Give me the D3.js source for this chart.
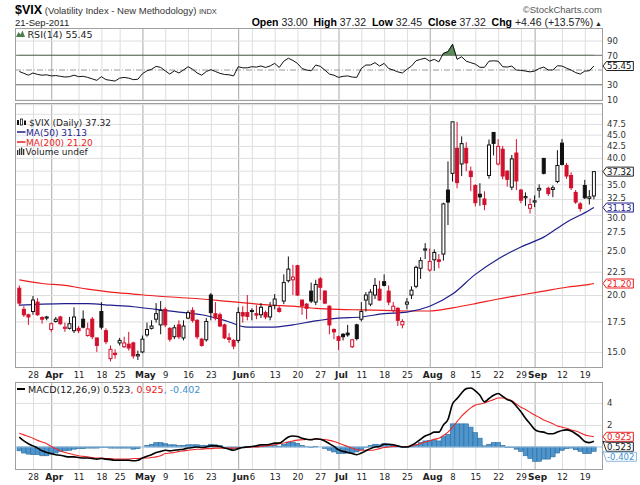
<!doctype html>
<html>
<head>
<meta charset="utf-8">
<title>$VIX daily</title>
<script src="https://cdn.jsdelivr.net/npm/d3@7"></script>
<style>
  body { margin: 0; background: #fff; }
  text { font-family: "DejaVu Sans", Verdana, sans-serif; white-space: pre; }
  .hdr { font-family: "Liberation Sans", Arial, sans-serif; }
</style>
</head>
<body>
<svg id="chart" width="640" height="485"></svg>
<script>
// trading days Mar 23 - Sep 21 2011 (weekends and market holidays left out)
var holidays = ["2011-04-22", "2011-05-30", "2011-07-04", "2011-09-05"];
var fmt = d3.utcFormat("%Y-%m-%d");
var days = d3.utcDay.range(new Date(Date.UTC(2011, 2, 23)), new Date(Date.UTC(2011, 8, 22)))
  .filter(d => d.getUTCDay() % 6 !== 0 && holidays.indexOf(fmt(d)) < 0)
  .map(fmt);

var tickDays = ["2011-03-28","2011-04-01","2011-04-11","2011-04-18","2011-04-25","2011-05-02",
  "2011-05-09","2011-05-16","2011-05-23","2011-06-01","2011-06-06","2011-06-13","2011-06-20",
  "2011-06-27","2011-07-01","2011-07-11","2011-07-18","2011-07-25","2011-08-01","2011-08-08",
  "2011-08-15","2011-08-22","2011-08-29","2011-09-01","2011-09-12","2011-09-19"];
var tickLabels = ["28","Apr","11","18","25","May","9","16","23","Jun","6","13","20","27",
  "Jul","11","18","25","Aug","8","15","22","29","Sep","12","19"];

var open = [
  20.7, 18.6, 18.1, 18.4, 19.3, 17.85, 17.8, 16.8, 17.5, 17.9,
  16.9, 16.9, 16.7, 16.9, 17.7, 16.3, 17.7, 16.1, 18.4, 16.7,
  14.5, 14.9, 15.7, 15.4, 15.6, 15.7, 14.7, 15.0, 16.35, 16.9,
  17.7, 17.2, 18.6, 16.9, 16.2, 17.2, 16.1, 17.8, 18.5, 17.6,
  16.0, 15.95, 20.0, 18.2, 18.1, 17.2, 16.1, 15.9, 15.9, 18.3,
  18.3, 18.4, 18.2, 18.1, 18.3, 17.9, 19.0, 18.7, 19.4, 21.5,
  21.6, 23.2, 19.5, 19.1, 20.4, 19.3, 21.7, 20.4, 18.9, 16.8,
  16.2, 16.4, 16.5, 15.4, 17.2, 17.7, 19.5, 19.1, 20.0, 20.6,
  21.4, 20.4, 18.5, 18.7, 17.2, 19.1, 20.0, 20.9, 22.9, 25.1,
  22.7, 23.9, 23.9, 24.6, 34.0, 37.0, 42.0, 38.8, 42.0, 37.4,
  34.8, 33.3, 32.5, 36.6, 45.5, 38.8, 41.8, 37.4, 34.5, 41.0,
  34.0, 32.7, 31.0, 32.0, 34.0, 39.9, 34.3, 34.1, 35.5, 43.1,
  38.5, 36.6, 33.6, 31.7, 34.8, 32.6, 33.0];
var high = [
  21.0, 18.9, 18.2, 19.9, 19.7, 17.95, 18.0, 17.4, 17.9, 18.0,
  17.4, 17.9, 18.8, 17.1, 18.5, 17.4, 17.9, 16.1, 19.3, 16.9,
  15.5, 15.2, 16.1, 16.2, 16.6, 15.8, 15.1, 16.3, 17.4, 17.6,
  19.2, 19.4, 18.8, 17.0, 17.2, 17.6, 17.6, 18.5, 18.8, 17.7,
  16.1, 17.8, 20.2, 19.3, 18.3, 17.3, 16.5, 16.0, 18.8, 18.9,
  20.0, 18.7, 19.0, 19.2, 18.5, 19.3, 20.1, 18.9, 22.2, 24.3,
  23.3, 23.3, 19.5, 19.2, 21.3, 21.6, 21.9, 20.5, 19.0, 16.9,
  16.3, 16.5, 17.2, 16.0, 17.3, 19.3, 20.3, 20.6, 21.8, 21.5,
  22.2, 21.0, 19.3, 18.8, 17.7, 19.7, 20.9, 23.2, 24.2, 26.0,
  25.3, 25.2, 24.6, 31.9, 39.3, 48.0, 48.0, 44.6, 43.3, 38.3,
  35.0, 35.2, 33.8, 43.9, 45.6, 44.0, 42.5, 37.6, 40.6, 44.0,
  34.2, 33.6, 32.6, 33.1, 35.0, 40.0, 34.6, 34.8, 41.6, 44.0,
  39.0, 37.2, 34.0, 32.0, 35.8, 34.0, 37.32];
var low = [
  18.9, 17.9, 17.2, 18.1, 18.0, 17.3, 17.6, 16.6, 17.4, 17.2,
  16.6, 16.8, 16.5, 16.5, 16.9, 16.2, 16.0, 15.0, 16.8, 15.6,
  14.3, 14.5, 15.5, 15.3, 15.1, 14.5, 14.4, 14.9, 16.2, 16.8,
  17.4, 16.4, 17.0, 15.8, 16.0, 16.0, 15.9, 17.7, 17.4, 16.0,
  15.4, 15.8, 17.6, 17.6, 17.0, 16.0, 15.7, 15.2, 15.7, 17.4,
  17.6, 17.6, 17.7, 17.8, 17.7, 17.6, 18.6, 18.3, 19.1, 21.3,
  20.0, 19.9, 18.1, 17.7, 19.2, 19.0, 19.5, 19.1, 16.4, 16.0,
  15.15, 15.9, 16.2, 15.3, 15.9, 17.5, 18.4, 18.9, 19.6, 19.4,
  20.9, 19.0, 18.3, 17.1, 16.9, 18.6, 19.6, 20.7, 21.7, 24.0,
  22.5, 22.6, 22.9, 23.8, 28.5, 35.5, 34.3, 36.5, 37.4, 33.8,
  31.3, 31.4, 30.7, 36.0, 40.5, 38.5, 35.9, 34.6, 34.0, 34.0,
  31.8, 31.4, 30.2, 31.2, 32.7, 36.8, 33.0, 32.8, 35.2, 38.5,
  36.0, 34.0, 31.7, 30.5, 32.5, 31.6, 32.45];
var close = [
  19.2, 18.1, 17.9, 19.5, 18.1, 17.7, 17.9, 17.3, 17.7, 17.3,
  17.0, 17.3, 17.9, 16.7, 17.0, 16.85, 16.2, 15.5, 17.0, 15.8,
  15.2, 14.8, 15.9, 15.7, 15.3, 14.7, 14.8, 16.0, 16.8, 17.1,
  18.2, 18.5, 17.2, 16.0, 16.95, 16.2, 17.1, 18.3, 17.6, 16.2,
  15.5, 17.5, 18.3, 17.8, 17.1, 16.1, 15.98, 15.45, 18.3, 18.0,
  17.95, 18.5, 18.07, 18.8, 17.9, 18.86, 19.6, 18.4, 21.3, 22.8,
  21.9, 20.0, 18.95, 18.7, 19.4, 21.1, 20.8, 19.2, 17.2, 16.6,
  15.9, 16.2, 16.35, 15.95, 16.05, 18.4, 20.0, 20.3, 21.0, 19.5,
  21.0, 19.3, 18.9, 17.6, 17.5, 19.3, 20.5, 23.0, 23.8, 25.25,
  23.7, 24.8, 23.7, 31.7, 32.0, 48.0, 35.3, 43.0, 39.0, 36.4,
  31.9, 32.85, 31.6, 42.7, 43.05, 42.4, 36.5, 35.9, 39.8, 35.6,
  32.3, 32.9, 31.6, 32.2, 34.3, 37.0, 33.4, 34.4, 38.5, 38.7,
  36.5, 34.4, 32.0, 30.98, 32.7, 32.86, 37.32];

// moving averages every fifth session
var maIdx = [0, 5, 10, 15, 20, 25, 30, 35, 40, 45, 50, 55, 60, 65, 70, 75, 80, 85, 90, 95,
  100, 105, 110, 115, 120, 125, 126];
var ma50 = [19.0, 19.1, 19.15, 19.15, 19.0, 18.85, 18.6, 18.35, 18.1, 17.6, 17.0, 17.0, 17.2,
  17.55, 17.8, 17.9, 18.2, 18.35, 18.9, 20.1, 22.2, 24.0, 25.5, 26.8, 28.9, 30.7, 31.13];
var ma200 = [21.6, 21.2, 21.0, 20.6, 20.3, 20.1, 19.9, 19.75, 19.6, 19.4, 19.2, 19.0, 18.9,
  18.7, 18.6, 18.55, 18.5, 18.45, 18.45, 18.75, 19.15, 19.6, 20.0, 20.4, 20.8, 21.1, 21.2];

var rsi = [
  48, 45.5, 43, 46, 44, 43, 43.5, 42, 42.5, 41.5,
  40.5, 41, 43, 41, 41.5, 40, 38, 36, 41, 37,
  36, 35, 39, 40, 39, 37, 37.5, 45, 49, 51,
  55, 53.5, 49, 44.5, 49, 46, 50, 54.5, 51, 46,
  43, 48, 50.5, 48, 45.5, 44, 43.5, 42, 54.5, 53,
  53, 54.5, 54, 55.5, 53.5, 55.5, 59, 53.5, 62, 66,
  63, 59, 52, 50, 49, 56.8, 55, 50, 44.5, 43,
  40, 41.5, 42, 40.5, 40, 52, 56.8, 56.8, 60, 55.4,
  59, 52, 50, 47.5, 46, 51, 55.4, 62.6, 64.5, 66,
  62, 64.5, 61, 72.7, 75, 85, 64.5, 68, 62, 60,
  58, 53.7, 53.7, 62, 62.5, 62, 54.5, 54, 55.4, 50,
  49.5, 48.6, 47.5, 48.6, 52, 54, 50, 50, 55.8, 55.4,
  52.5, 50, 46.5, 44.5, 48.6, 49, 55.45];

var macd = [
  0.9, 0.55, 0.3, 0.1, -0.1, -0.35, -0.5, -0.6, -0.7, -0.75,
  -0.85, -0.9, -0.9, -0.95, -1.0, -1.0, -1.05, -1.1, -1.05, -1.1,
  -1.15, -1.2, -1.2, -1.2, -1.2, -1.25, -1.2, -1.0, -0.85, -0.7,
  -0.5, -0.4, -0.3, -0.35, -0.3, -0.25, -0.2, -0.1, -0.05, 0.0,
  -0.05, 0.0, 0.1, 0.1, 0.05, -0.1, -0.2, -0.3, -0.15, -0.05,
  0.0, 0.05, 0.1, 0.2, 0.2, 0.25, 0.35, 0.35, 0.6, 0.9,
  1.0, 0.95, 0.8, 0.7, 0.65, 0.75, 0.7, 0.55, 0.3, 0.05,
  -0.25, -0.4, -0.5, -0.6, -0.7, -0.55, -0.35, -0.15, 0.0, 0.05,
  0.25, 0.25, 0.2, 0.1, 0.0, 0.0, 0.15, 0.4, 0.7, 1.0,
  1.15, 1.35, 1.35, 2.0, 2.5, 3.9, 4.4, 4.9, 5.3, 5.35,
  5.1, 4.7, 4.1, 4.4, 4.7, 4.85, 4.6, 4.3, 4.15, 3.7,
  3.2, 2.6, 2.1, 1.6, 1.4, 1.35, 1.2, 1.2, 1.35, 1.5,
  1.55, 1.45, 1.2, 0.9, 0.5, 0.4, 0.523];
var signal = [
  1.25, 1.1, 0.95, 0.8, 0.6, 0.45, 0.3, 0.05, -0.15, -0.35,
  -0.5, -0.6, -0.7, -0.8, -0.85, -0.9, -0.95, -1.0, -1.0, -1.05,
  -1.05, -1.1, -1.1, -1.1, -1.1, -1.05, -1.05, -1.0, -1.0, -0.95,
  -0.9, -0.8, -0.6, -0.55, -0.5, -0.4, -0.35, -0.3, -0.25, -0.2,
  -0.2, -0.15, -0.15, -0.1, -0.1, -0.1, -0.1, -0.1, -0.1, -0.05,
  -0.05, 0.0, 0.0, 0.05, 0.1, 0.15, 0.2, 0.3, 0.36, 0.45,
  0.55, 0.62, 0.65, 0.68, 0.7, 0.7, 0.7, 0.68, 0.6, 0.5,
  0.36, 0.2, 0.05, -0.1, -0.25, -0.3, -0.3, -0.3, -0.25, -0.15,
  -0.05, 0.0, 0.05, 0.05, 0.05, 0.05, 0.1, 0.2, 0.3, 0.45,
  0.55, 0.7, 0.8, 1.05, 1.35, 1.8, 2.3, 2.8, 3.2, 3.55,
  3.8, 3.9, 4.0, 4.15, 4.3, 4.45, 4.45, 4.35, 4.2, 3.9,
  3.6, 3.4, 3.15, 2.9, 2.7, 2.45, 2.3, 2.1, 1.9, 1.8,
  1.7, 1.55, 1.45, 1.3, 1.1, 1.0, 0.925];

var RED = "#d2102c", NAVY = "#1e1e8c", MA200C = "#ee1c1c", HIST = "#4d95cc", HISTLINE = "#2b6a9c";

var svg = d3.select("#chart");
var L = 15, R = 603, TAGH = 9;
var rsiTop = 28, rsiBot = 101, mainTop = 103, mainBot = 368, macdTop = 382, macdBot = 470;
var last = days.length - 1;

var x = d3.scalePoint().domain(days).range([19.3, 593.9]);
var y = d3.scaleLog().domain([13.83, 52.8]).range([mainBot, mainTop]);
var yR = d3.scaleLinear().domain([8, 107]).range([rsiBot, rsiTop]);
var yM = d3.scaleLinear().domain([-2.09, 5.9]).range([macdBot, macdTop]);

function isMonth(i) { return isNaN(+tickLabels[i]); }

function panel(top, bot) {
  svg.append("rect").attr("x", L).attr("y", top).attr("width", R - L).attr("height", bot - top)
    .attr("fill", "#fff");
  var g = svg.append("g").attr("transform", "translate(0," + bot + ")")
    .call(d3.axisBottom(x).tickValues(tickDays).tickSize(-(bot - top)).tickFormat(""));
  g.select(".domain").remove();
  g.selectAll("line").attr("stroke", (d, i) => isMonth(i) ? "#a8a8a8" : "#dedede");
}

function border(top, bot) {
  svg.append("rect").attr("x", L + 0.5).attr("y", top + 0.5).attr("width", R - L - 1)
    .attr("height", bot - top - 1).attr("fill", "none").attr("stroke", "#a0a0a0");
}

function hgrid(scale, values) {
  var g = svg.append("g").attr("transform", "translate(" + L + ",0)")
    .call(d3.axisLeft(scale).tickValues(values).tickSize(-(R - L)).tickFormat(""));
  g.select(".domain").remove();
  g.selectAll("line").attr("stroke", "#dedede");
}

// right-hand labels: one that sits under a value tag is left out,
// one that only grazes a tag is nudged clear of it
function rightLabels(scale, values, f, tagYs) {
  var shown = values.filter(v => tagYs.every(t => Math.abs(scale(v) - t) > 5));
  var g = svg.append("g").attr("transform", "translate(" + R + ",0)")
    .call(d3.axisRight(scale).tickValues(shown).tickSize(0).tickPadding(4).tickFormat(f));
  g.select(".domain").remove();
  g.selectAll("text").attr("font-size", 8.5).attr("font-family", "DejaVu Sans").attr("fill", "#333")
    .attr("y", function(v) {
      var off = 0;
      tagYs.forEach(function(t) {
        var dist = scale(v) - t;
        if (Math.abs(dist) < 10) off = (dist < 0 ? -1 : 1) * (10 - Math.abs(dist));
      });
      return off;
    });
}

function dateAxis(yy) {
  var g = svg.append("g").attr("transform", "translate(0," + yy + ")")
    .call(d3.axisBottom(x).tickValues(tickDays).tickSize(0).tickPadding(4)
      .tickFormat((d, i) => tickLabels[i]));
  g.select(".domain").remove();
  g.selectAll("text").attr("font-family", "DejaVu Sans").attr("fill", "#222")
    .attr("dx", (d, i) => isMonth(i) ? 2.5 : 0)
    .attr("font-size", (d, i) => isMonth(i) ? 9 : 8.5)
    .attr("font-weight", (d, i) => isMonth(i) ? "bold" : null);
}

// value tag on the right axis; ty is where the box sits, vy is the value it points at
function tag(ty, vy, label, stroke, color) {
  var g = svg.append("g");
  var t = g.append("text").attr("x", R + 4).attr("y", ty + 3.1).text(label)
    .attr("font-size", 8.5).attr("fill", color);
  var w = t.node().getComputedTextLength() + 6;
  var hh = TAGH / 2;
  g.insert("path", "text")
    .attr("d", "M" + R + "," + vy + "L" + (R + 3.5) + "," + (ty - hh) + "H" + (R + w) +
      "V" + (ty + hh) + "H" + (R + 3.5) + "Z")
    .attr("fill", "#fff").attr("stroke", stroke);
}

// stack tags top to bottom so that their boxes do not cover each other
function placeTags(list) {
  list.sort((a, b) => a.vy - b.vy);
  var prev = -1e9;
  list.forEach(function(t) {
    t.ty = Math.max(t.vy, prev + TAGH + 1);
    prev = t.ty;
  });
  list.forEach(t => tag(t.ty, t.vy, t.label, t.stroke, t.color));
}

// ---------- header ----------
var h = svg.append("text").attr("class", "hdr").attr("x", L).attr("y", 13.5);
h.append("tspan").attr("font-weight", "bold").attr("font-size", 12.5).text("$VIX");
h.append("tspan").attr("font-size", 9.5).attr("fill", "#333").text(" (Volatility Index - New Methodology) ");
h.append("tspan").attr("font-size", 7.5).attr("fill", "#333").text("INDX");
svg.append("text").attr("class", "hdr").attr("x", L).attr("y", 25.5).attr("font-size", 9.5)
  .attr("fill", "#222").text("21-Sep-2011");
svg.append("text").attr("class", "hdr").attr("x", R - 1).attr("y", 13).attr("font-size", 9.5)
  .attr("fill", "#555").attr("text-anchor", "end").text("\u00a9StockCharts.com");

var chg = close[last] - close[last - 1];
var quote = [["Open", open[last].toFixed(2)], ["High", high[last].toFixed(2)],
  ["Low", low[last].toFixed(2)], ["Close", close[last].toFixed(2)],
  ["Chg", "+" + chg.toFixed(2) + " (+" + (chg / close[last - 1] * 100).toFixed(2) + "%)"]];
var q = svg.append("text").attr("class", "hdr").attr("x", R - 1).attr("y", 25.5)
  .attr("font-size", 10.5).attr("text-anchor", "end").attr("fill", "#222");
quote.forEach(function(p, i) {
  q.append("tspan").attr("font-weight", "bold").attr("fill", "#000").text((i ? "  " : "") + p[0]);
  q.append("tspan").text(" " + p[1]);
});
q.append("tspan").attr("font-size", 7).text(" \u25b2");

// ---------- RSI panel ----------
panel(rsiTop, rsiBot);
hgrid(yR, [10, 90]);
[70, 30].forEach(function(v) {
  svg.append("line").attr("x1", L).attr("x2", R).attr("y1", yR(v)).attr("y2", yR(v))
    .attr("stroke", "#6a6a6a");
});
svg.append("line").attr("x1", L).attr("x2", R).attr("y1", yR(50)).attr("y2", yR(50))
  .attr("stroke", "#999").attr("stroke-dasharray", "6,2,1,2");

svg.append("clipPath").attr("id", "above70").append("rect")
  .attr("x", L).attr("y", rsiTop).attr("width", R - L).attr("height", yR(70) - rsiTop);
svg.append("path").datum(rsi).attr("clip-path", "url(#above70)")
  .attr("d", d3.area().x((d, i) => x(days[i])).y0(yR(70)).y1(d => yR(d)))
  .attr("fill", "#5b8c5b").attr("stroke", "#2f5f2f").attr("stroke-width", 0.6);
svg.append("path").datum(rsi)
  .attr("d", d3.line().x((d, i) => x(days[i])).y(d => yR(d)))
  .attr("fill", "none").attr("stroke", "#111").attr("stroke-width", 1);
border(rsiTop, rsiBot);
svg.append("path").attr("d", "M16,37L18.5,32L20.5,34.5L22.5,30.5L25,37Z").attr("fill", "#4e7e4e");
svg.append("text").attr("x", 27.5).attr("y", 37.5).attr("font-size", 9.5).attr("fill", "#222")
  .text("RSI(14) " + rsi[last].toFixed(2));
rightLabels(yR, [90, 70, 50, 30, 10], d3.format("d"), [yR(rsi[last])]);
placeTags([{ vy: yR(rsi[last]), label: rsi[last].toFixed(2), stroke: "#222", color: "#111" }]);

// ---------- price panel ----------
panel(mainTop, mainBot);
hgrid(y, d3.range(15, 53, 2.5));
svg.append("clipPath").attr("id", "clipMain").append("rect")
  .attr("x", L).attr("y", mainTop).attr("width", R - L).attr("height", mainBot - mainTop);

var maLine = d3.line().x(d => x(days[d[0]])).y(d => y(d[1])).curve(d3.curveMonotoneX);
svg.append("path").datum(maIdx.map((k, i) => [k, ma200[i]])).attr("d", maLine)
  .attr("fill", "none").attr("stroke", MA200C).attr("stroke-width", 1.2);
svg.append("path").datum(maIdx.map((k, i) => [k, ma50[i]])).attr("d", maLine)
  .attr("fill", "none").attr("stroke", NAVY).attr("stroke-width", 1.2);

svg.append("g").attr("clip-path", "url(#clipMain)")
  .selectAll("g.candle").data(days).enter().append("g").attr("class", "candle")
  .each(function(d, i) {
    var g = d3.select(this);
    var cx = x(d);
    var prev = i > 0 ? close[i - 1] : open[i];
    var col = close[i] >= prev ? "#111" : RED;
    var hollow = close[i] >= open[i];
    g.append("line").attr("x1", cx).attr("x2", cx).attr("y1", y(high[i])).attr("y2", y(low[i]))
      .attr("stroke", col).attr("stroke-width", 1);
    var top = y(Math.max(open[i], close[i])), bot = y(Math.min(open[i], close[i]));
    g.append("rect").attr("x", cx - 1.5).attr("y", top).attr("width", 3)
      .attr("height", Math.max(bot - top, 0.5))
      .attr("fill", hollow ? "#fff" : col).attr("stroke", col).attr("stroke-width", 1);
  });
border(mainTop, mainBot);

// legend
var lg = svg.append("g").attr("font-size", 9);
lg.append("rect").attr("x", 17).attr("y", 120).attr("width", 2).attr("height", 5).attr("fill", "#111");
lg.append("rect").attr("x", 20.5).attr("y", 119).attr("width", 2).attr("height", 6).attr("fill", "#fff")
  .attr("stroke", "#111").attr("stroke-width", 0.8);
lg.append("rect").attr("x", 24).attr("y", 120.5).attr("width", 2).attr("height", 4.5).attr("fill", "#111");
lg.append("text").attr("x", 29).attr("y", 125.5).attr("fill", "#222")
  .text("$VIX (Daily) " + close[last].toFixed(2));
lg.append("line").attr("x1", 17).attr("x2", 25.5).attr("y1", 132).attr("y2", 132)
  .attr("stroke", NAVY).attr("stroke-width", 1.5);
lg.append("text").attr("x", 26).attr("y", 135.5).attr("fill", NAVY).text("MA(50) " + ma50[ma50.length - 1].toFixed(2));
lg.append("line").attr("x1", 17).attr("x2", 25.5).attr("y1", 142).attr("y2", 142)
  .attr("stroke", MA200C).attr("stroke-width", 1.5);
lg.append("text").attr("x", 26).attr("y", 145.5).attr("fill", MA200C).text("MA(200) " + ma200[ma200.length - 1].toFixed(2));
[[17, 150], [19, 148.5], [21, 147.5], [23, 149]].forEach(function(b) {
  lg.append("rect").attr("x", b[0]).attr("y", b[1]).attr("width", 1.3).attr("height", 155 - b[1]).attr("fill", "#333");
});
lg.append("text").attr("x", 25.5).attr("y", 155).attr("fill", "#222").text("Volume undef");

var ma50Last = ma50[ma50.length - 1], ma200Last = ma200[ma200.length - 1];
rightLabels(y, d3.range(15, 48, 2.5), d3.format(".1f"), [y(close[last]), y(ma50Last), y(ma200Last)]);
placeTags([
  { vy: y(ma200Last), label: ma200Last.toFixed(2), stroke: MA200C, color: MA200C },
  { vy: y(ma50Last), label: ma50Last.toFixed(2), stroke: NAVY, color: NAVY },
  { vy: y(close[last]), label: close[last].toFixed(2), stroke: "#222", color: "#111" }
]);

dateAxis(mainBot);

// ---------- MACD panel ----------
panel(macdTop, macdBot);
hgrid(yM, [2, 4]);
var step = x.step();
svg.append("g").selectAll("rect.hist").data(days).enter().append("rect").attr("class", "hist")
  .attr("x", d => x(d) - step / 2)
  .attr("width", step)
  .attr("y", (d, i) => yM(Math.max(0, macd[i] - signal[i])))
  .attr("height", (d, i) => Math.abs(yM(macd[i] - signal[i]) - yM(0)))
  .attr("fill", HIST).attr("stroke", HISTLINE).attr("stroke-width", 0.6);
svg.append("line").attr("x1", L).attr("x2", R).attr("y1", yM(0)).attr("y2", yM(0))
  .attr("stroke", "#9ec3e2").attr("stroke-width", 1);
svg.append("path").datum(signal)
  .attr("d", d3.line().x((d, i) => x(days[i])).y(d => yM(d)).curve(d3.curveMonotoneX))
  .attr("fill", "none").attr("stroke", "#f02828").attr("stroke-width", 1.1);
svg.append("path").datum(macd)
  .attr("d", d3.line().x((d, i) => x(days[i])).y(d => yM(d)).curve(d3.curveMonotoneX))
  .attr("fill", "none").attr("stroke", "#000").attr("stroke-width", 1.6);
border(macdTop, macdBot);

var histLast = macd[last] - signal[last];
svg.append("line").attr("x1", 17).attr("x2", 25).attr("y1", 389).attr("y2", 389)
  .attr("stroke", "#000").attr("stroke-width", 2);
var mt = svg.append("text").attr("x", 28).attr("y", 392.5).attr("font-size", 9.5);
mt.append("tspan").attr("fill", "#222").text("MACD(12,26,9) " + macd[last].toFixed(3));
mt.append("tspan").attr("fill", "#e82020").text(", " + signal[last].toFixed(3));
mt.append("tspan").attr("fill", "#3d8fcf").text(", " + histLast.toFixed(3));

rightLabels(yM, [2, 4], d3.format("d"), []);
placeTags([
  { vy: yM(signal[last]), label: signal[last].toFixed(3), stroke: "#e82020", color: "#e82020" },
  { vy: yM(macd[last]), label: macd[last].toFixed(3), stroke: "#222", color: "#111" },
  { vy: yM(histLast), label: histLast.toFixed(3), stroke: "#8ab8de", color: "#3d8fcf" }
]);

dateAxis(macdBot);
</script>
</body>
</html>
